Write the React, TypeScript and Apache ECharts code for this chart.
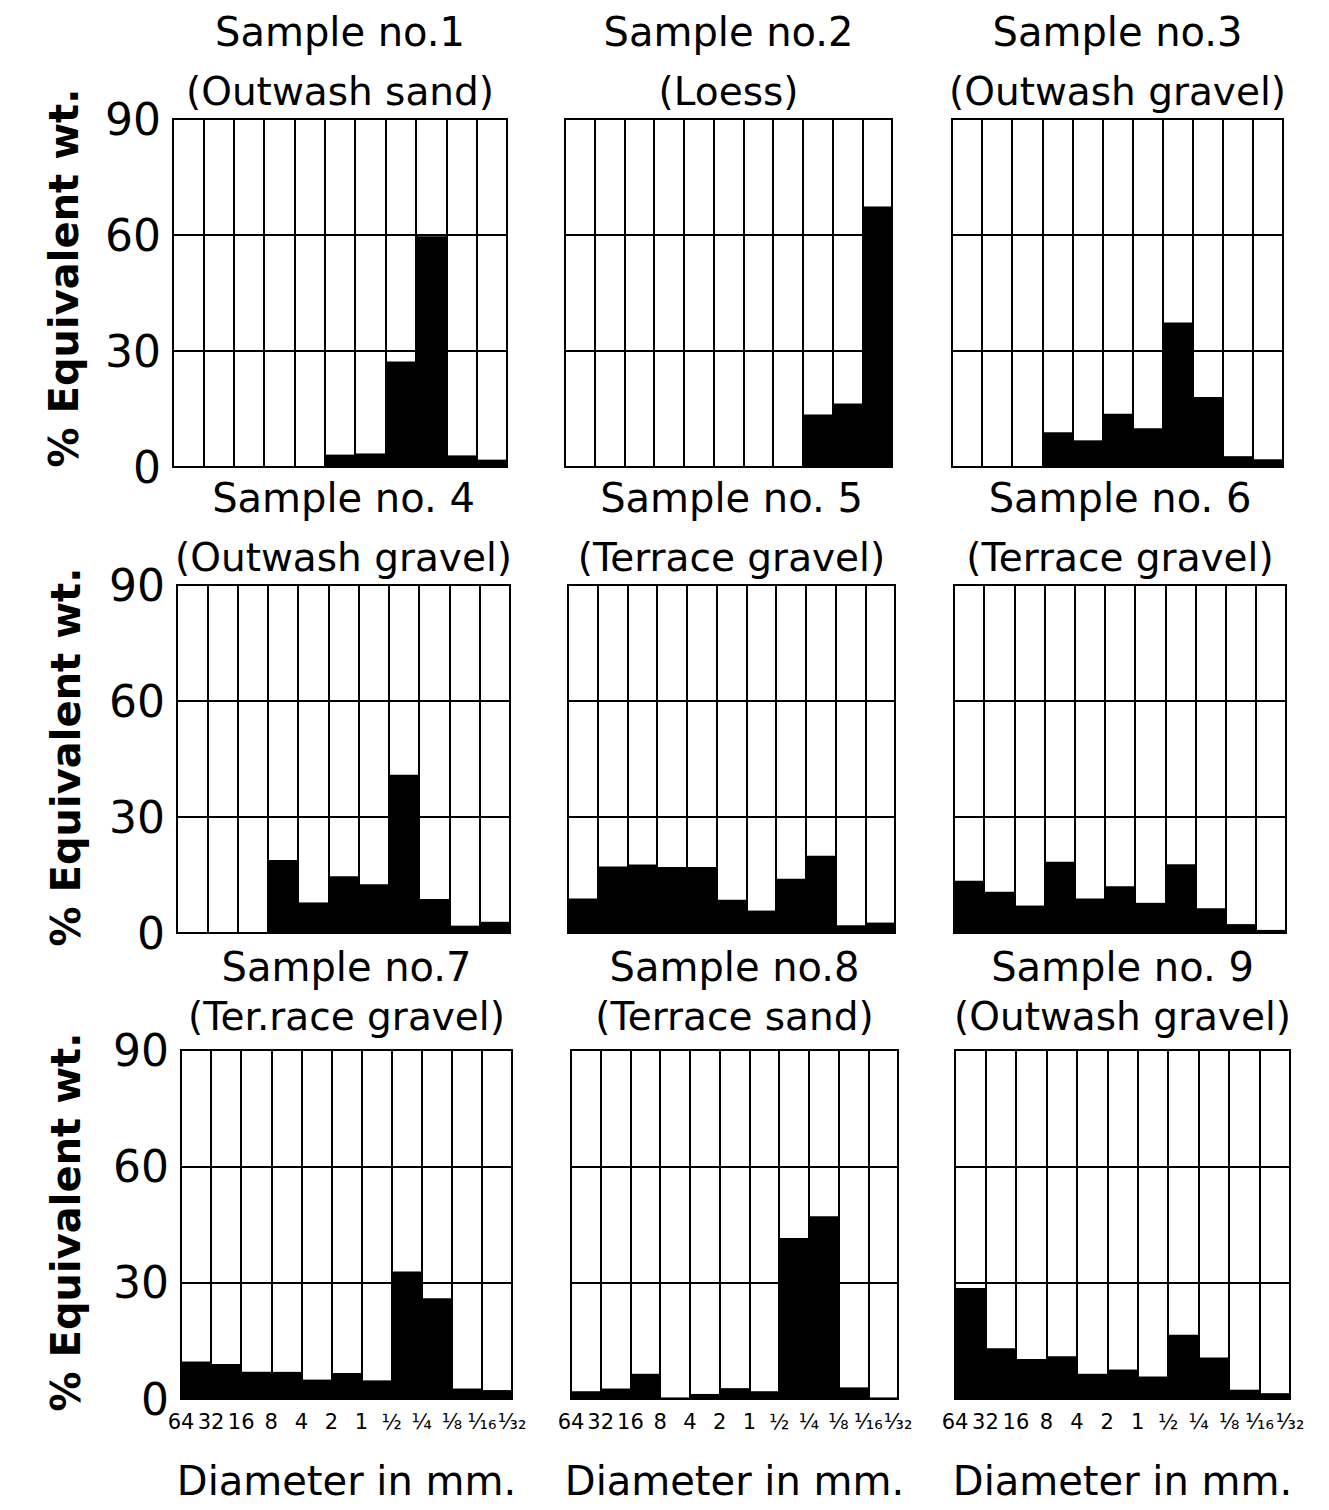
import React, { useEffect, useRef } from "react";
import * as echarts from "echarts";

// Size classes (mm) – 11 bins between 12 boundaries
const bins = ["64–32", "32–16", "16–8", "8–4", "4–2", "2–1", "1–½", "½–¼", "¼–⅛", "⅛–¹⁄₁₆", "¹⁄₁₆–¹⁄₃₂"];
const boundaryLabels = ["64", "32", "16", "8", "4", "2", "1", "½", "¼", "⅛", "¹⁄₁₆", "¹⁄₃₂"];

const sampleTitles = [
  "Sample no.1", "Sample no.2", "Sample no.3",
  "Sample no. 4", "Sample no. 5", "Sample no. 6",
  "Sample no.7", "Sample no.8", "Sample no. 9",
];
const sampleTypes = [
  "(Outwash sand)", "(Loess)", "(Outwash gravel)",
  "(Outwash gravel)", "(Terrace gravel)", "(Terrace gravel)",
  "(Ter.race gravel)", "(Terrace sand)", "(Outwash gravel)",
];

// % equivalent weight per size class
const sample1 = [0, 0, 0, 0, 0, 3.2, 3.5, 27.3, 59.7, 3.0, 1.9];
const sample2 = [0, 0, 0, 0, 0, 0, 0, 0, 13.6, 16.4, 67.4];
const sample3 = [0, 0, 0, 9.0, 6.9, 13.8, 10.0, 37.4, 18.1, 2.8, 2.0];
const sample4 = [0, 0, 0, 18.9, 7.9, 14.7, 12.6, 40.9, 8.8, 1.9, 2.9];
const sample5 = [8.9, 17.2, 17.7, 17.1, 17.1, 8.6, 5.8, 14.0, 20.0, 2.0, 2.7];
const sample6 = [13.5, 10.7, 7.1, 18.4, 8.9, 12.1, 7.8, 17.8, 6.4, 2.3, 0.8];
const sample7 = [9.7, 9.0, 7.0, 7.0, 5.0, 6.7, 4.8, 32.9, 26.0, 2.7, 2.3];
const sample8 = [2.0, 2.7, 6.5, 0.4, 1.3, 2.8, 2.0, 41.5, 47.1, 3.0, 0.4];
const sample9 = [28.6, 13.1, 10.3, 11.0, 6.5, 7.6, 5.8, 16.6, 10.7, 2.4, 1.5];
const samples = [sample1, sample2, sample3, sample4, sample5, sample6, sample7, sample8, sample9];

const yMin = 0;
const yMax = 90;
const yStep = 30;
const yAxisName = "% Equivalent wt.";
const xAxisName = "Diameter in mm.";

const FONT = "DejaVu Sans";

// panel layout (px)
const grids = [
  { left: 173, top: 119, width: 334, height: 348 },
  { left: 565, top: 119, width: 327, height: 348 },
  { left: 952, top: 119, width: 331, height: 348 },
  { left: 177, top: 585, width: 333, height: 348 },
  { left: 568, top: 585, width: 327, height: 348 },
  { left: 954, top: 585, width: 332, height: 348 },
  { left: 181, top: 1050, width: 331, height: 349 },
  { left: 571, top: 1050, width: 327, height: 349 },
  { left: 955, top: 1050, width: 335, height: 349 },
];
const titleTops = [[12, 72], [478, 538], [947, 997]];
const yNamePos = [[64, 278], [66, 757], [66, 1222]];

export default function App() {
  const ref = useRef<HTMLDivElement>(null);
  useEffect(() => {
    document.body.style.margin = "0";
    if (!ref.current) return;
    const chart = echarts.init(ref.current, null, { renderer: "svg" });
    const black = "#000";
    const title: any[] = [];
    const grid: any[] = [];
    const xAxis: any[] = [];
    const yAxis: any[] = [];
    const series: any[] = [];
    const graphic: any[] = [];
    samples.forEach((data, i) => {
      const g = grids[i];
      const row = Math.floor(i / 3);
      const col = i % 3;
      const cx = g.left + g.width / 2;
      title.push({
        text: sampleTitles[i], left: cx, top: titleTops[row][0], textAlign: "center", padding: 0,
        textStyle: { fontFamily: FONT, fontSize: 40, fontWeight: "normal", color: black },
      });
      title.push({
        text: sampleTypes[i], left: cx, top: titleTops[row][1], textAlign: "center", padding: 0,
        textStyle: { fontFamily: FONT, fontSize: 39, fontWeight: "normal", color: black },
      });
      grid.push({ ...g, show: true, borderColor: black, borderWidth: 2, backgroundColor: "#fff" });
      xAxis.push({
        gridIndex: i, type: "category", data: bins,
        axisLine: { show: false }, axisTick: { show: false }, axisLabel: { show: false, interval: 0 },
        splitLine: { show: true, interval: 0, lineStyle: { color: black, width: 2 } },
      });
      xAxis.push({
        gridIndex: i, type: "value", min: 0, max: boundaryLabels.length - 1, interval: 1, position: "bottom",
        axisLine: { show: false }, axisTick: { show: false }, splitLine: { show: false },
        axisLabel: {
          show: row === 2, showMinLabel: true, showMaxLabel: true, margin: 12,
          fontFamily: FONT, fontSize: 21, color: black,
          formatter: (v: number) => boundaryLabels[Math.round(v)],
        },
        name: row === 2 ? xAxisName : "", nameLocation: "middle", nameGap: 62,
        nameTextStyle: { fontFamily: FONT, fontSize: 40, color: black },
      });
      yAxis.push({
        gridIndex: i, type: "value", min: yMin, max: yMax, interval: yStep,
        axisLine: { show: false }, axisTick: { show: false },
        splitLine: { show: true, lineStyle: { color: black, width: 2 } },
        axisLabel: { show: col === 0, fontFamily: FONT, fontSize: 44, color: black, margin: 12 },
      });
      series.push({
        type: "bar", xAxisIndex: 2 * i, yAxisIndex: i, data,
        barCategoryGap: "0%", itemStyle: { color: black }, silent: true,
      });
    });
    yNamePos.forEach(([x, y]) => {
      graphic.push({
        type: "text", x, y, rotation: Math.PI / 2, silent: true,
        style: {
          text: yAxisName, textAlign: "center", textVerticalAlign: "middle",
          fontFamily: FONT, fontSize: 40, fontWeight: "bold", fill: black,
        },
      });
    });
    chart.setOption({ animation: false, backgroundColor: "#fff", title, grid, xAxis, yAxis, series, graphic });
    return () => chart.dispose();
  }, []);
  return <div ref={ref} style={{ width: 1329, height: 1510 }} />;
}
